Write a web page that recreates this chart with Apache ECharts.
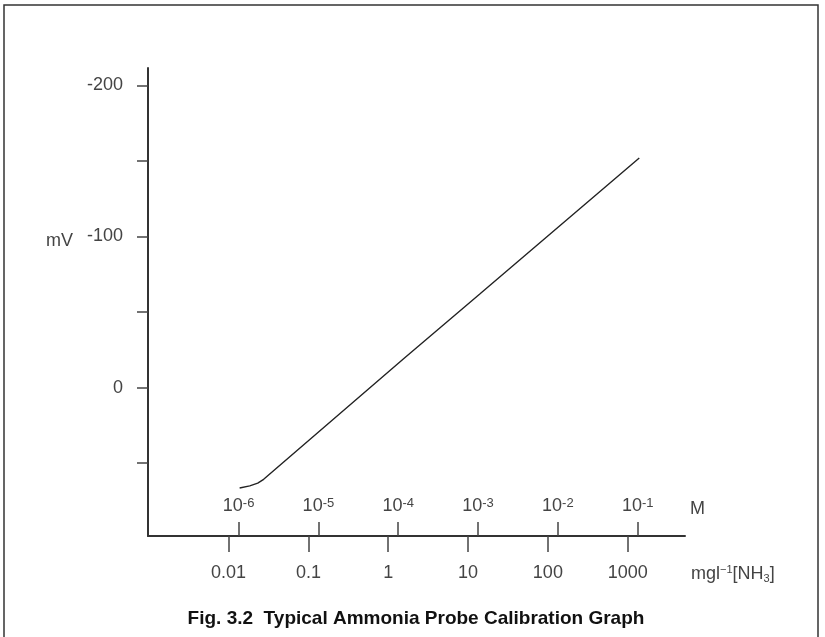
<!DOCTYPE html>
<html>
<head>
<meta charset="utf-8">
<script src="https://cdn.jsdelivr.net/npm/echarts@6/dist/echarts.min.js"></script>
<style>
html,body{margin:0;padding:0;background:#fff;}
#chart{width:825px;height:637px;}
</style>
</head>
<body>
<div id="chart"></div>
<script>
// log10 of molar concentration (M) and electrode potential (mV)
var logM = [-5.987, -5.86, -5.76, -5.686, -3.94, -2.978, -0.98];
var mV   = [66.4, 65.0, 63.2, 60.7, -18.8, -61.9, -151.9];

var mTickExps = [-6, -5, -4, -3, -2, -1];          // 10^x M
var mgTickExps = [-2, -1, 0, 1, 2, 3];             // log10 mg/l
var mgTickLabels = ['0.01', '0.1', '1', '10', '100', '1000'];
var yTicks = [-200, -150, -100, -50, 0, 50];
var yLabels = [-200, -100, 0];

var titleText = 'Fig. 3.2  Typical Ammonia Probe Calibration Graph';

var FONT = '"Liberation Sans", Arial, sans-serif';
var mgOffset = 4.125; // log10(mg/l) axis shift relative to log10(M)
var xMin = -7.135, xMax = -0.407;

var chart = echarts.init(document.getElementById('chart'));
chart.setOption({
  animation: false,
  backgroundColor: '#fff',
  title: {
    text: titleText,
    left: 411,
    textAlign: 'center',
    top: 604,
    textStyle: {fontFamily: FONT, fontSize: 19, fontWeight: 'bold', color: '#111'}
  },
  grid: {left: 148, right: 140, top: 68, bottom: 101, containLabel: false},
  xAxis: [
    {
      type: 'value', position: 'bottom', min: xMin, max: xMax,
      axisLine: {show: true, onZero: false, lineStyle: {color: '#333', width: 2}},
      axisTick: {show: true, inside: true, length: 14, customValues: mTickExps, lineStyle: {color: '#444', width: 1.5}},
      axisLabel: {
        show: true, inside: true, margin: 20, customValues: mTickExps,
        formatter: function (v) { return '{b|10}{s|' + Math.round(v) + '}'; },
        rich: {
          b: {fontFamily: FONT, fontSize: 18, color: '#444', lineHeight: 19},
          s: {fontFamily: FONT, fontSize: 13, color: '#444', verticalAlign: 'top', lineHeight: 13}
        }
      },
      splitLine: {show: false}
    },
    {
      type: 'value', position: 'bottom', min: xMin + mgOffset, max: xMax + mgOffset,
      axisLine: {show: false, onZero: false},
      axisTick: {show: true, inside: false, length: 16, customValues: mgTickExps, lineStyle: {color: '#444', width: 1.5}},
      axisLabel: {
        show: true, margin: 28, customValues: mgTickExps,
        fontFamily: FONT, fontSize: 18, color: '#444',
        formatter: function (v) {
          var i = mgTickExps.indexOf(Math.round(v));
          return i >= 0 ? mgTickLabels[i] : '';
        }
      },
      splitLine: {show: false}
    }
  ],
  yAxis: {
    type: 'value', inverse: true, min: -211.5, max: 98.2,
    axisLine: {show: true, onZero: false, lineStyle: {color: '#333', width: 2}},
    axisTick: {show: true, length: 11, customValues: yTicks, lineStyle: {color: '#444', width: 1.5}},
    axisLabel: {show: true, margin: 25, customValues: yLabels, fontFamily: FONT, fontSize: 18, color: '#444'},
    splitLine: {show: false}
  },
  series: [{
    type: 'line',
    xAxisIndex: 0,
    data: logM.map(function (x, i) { return [x, mV[i]]; }),
    showSymbol: false,
    smooth: false,
    lineStyle: {color: '#222', width: 1.4}
  }],
  graphic: [
    {type: 'rect', shape: {x: 4, y: 5, width: 814, height: 640}, style: {fill: 'none', stroke: '#333', lineWidth: 1.5}, z: 100},
    {type: 'text', x: 73, y: 241, style: {text: 'mV', fontFamily: FONT, fontSize: 18, fill: '#444', align: 'right', verticalAlign: 'middle'}},
    {type: 'text', x: 690, y: 509, style: {text: 'M', fontFamily: FONT, fontSize: 18, fill: '#444', align: 'left', verticalAlign: 'middle'}},
    {type: 'text', x: 691, y: 574, style: {
      text: '{b|mgl}{s|−1}{b|[NH}{u|3}{b|]}', align: 'left', verticalAlign: 'middle',
      rich: {
        b: {fontFamily: FONT, fontSize: 18, fill: '#444', lineHeight: 20},
        s: {fontFamily: FONT, fontSize: 11, fill: '#444', verticalAlign: 'top', lineHeight: 12},
        u: {fontFamily: FONT, fontSize: 11, fill: '#444', verticalAlign: 'bottom', lineHeight: 10}
      }
    }}
  ]
});
</script>
</body>
</html>
